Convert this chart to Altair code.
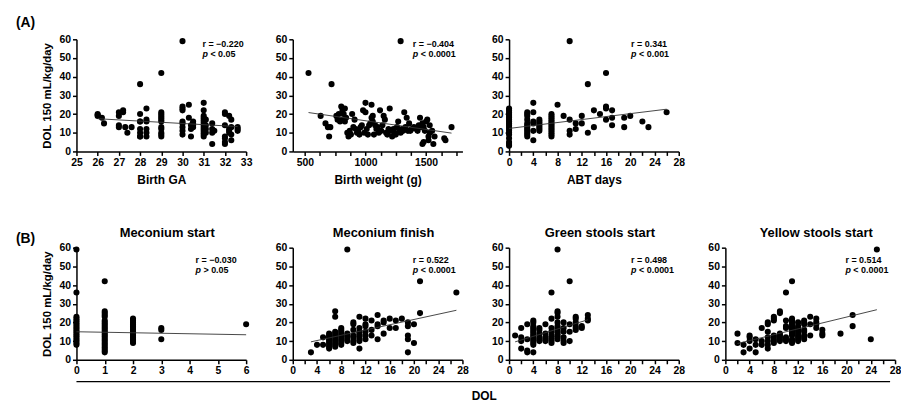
import altair as alt
import pandas as pd

FONT = "Liberation Sans"

# ---------------- data ----------------
# (A) Birth GA
GA_X = [26, 26, 26, 26.2, 26.3,
        27, 27, 27, 27, 27.2, 27.2, 27.3, 27.4, 27.6,
        28, 28, 28, 28, 28, 28, 28, 28,
        28.3, 28.3, 28.3, 28.3, 28.3, 28.3,
        29, 29, 29, 29, 29, 29, 29, 29, 29, 29, 29, 29,
        30, 30, 30, 30, 30, 30, 30, 30, 30,
        30.3, 30.3, 30.4, 30.4, 30.4, 30.5, 30.5, 30.5, 30.5,
        31, 31, 31, 31, 31, 31, 31, 31, 31, 31, 31, 31, 31, 31,
        31.1, 31.1, 31.1, 31.1,
        31.4, 31.4, 31.4, 31.4, 31.5,
        32, 32, 32, 32, 32, 32, 32,
        32.2, 32.2, 32.2, 32.2,
        32.3, 32.3, 32.3, 32.3,
        32.6, 32.6, 32.6]
GA_Y = [20, 19, 19.5, 18, 15,
        21, 19, 14, 13, 22, 21, 13, 10, 13,
        36, 20, 16, 16, 12, 10, 8, 8,
        23, 17, 16, 12, 10, 8,
        42, 21, 20, 19, 18, 17, 16, 13, 12, 10, 9, 8,
        59, 24, 23, 22, 16, 15, 13, 11, 9,
        25, 18, 14, 12, 8, 16, 15, 14, 13,
        26, 22, 19, 18, 17, 16, 15, 14, 13, 12, 11, 10, 9, 8,
        17, 14, 12, 10,
        15, 12, 10, 4, 11,
        21, 20, 14, 8, 7, 5, 4,
        19, 12, 11, 10,
        17, 13, 9, 6,
        13, 12, 11]

# (A) Birth weight
BW_X = [530, 630, 670, 690, 700, 710, 720, 760, 770, 780, 790, 800, 810, 810, 820,
        830, 830, 840, 850, 860, 870, 880, 890, 900, 910, 920, 930, 940, 950, 960,
        970, 980, 990, 1000, 1000, 1010, 1020, 1030, 1040, 1050, 1050, 1060, 1060,
        1070, 1080, 1090, 1100, 1110, 1120, 1130, 1140, 1150, 1160, 1170, 1180, 1190,
        1200, 1210, 1220, 1230, 1240, 1250, 1260, 1270, 1280, 1290, 1290, 1300, 1310,
        1320, 1330, 1340, 1350, 1360, 1370, 1380, 1400, 1420, 1430, 1440, 1450, 1460,
        1470, 1480, 1490, 1500, 1510, 1520, 1520, 1530, 1530, 1470, 1480, 1550, 1560,
        1570, 1650, 1660, 1710]
BW_Y = [42, 19, 15, 13, 8, 13, 36, 19, 17, 20, 16, 24, 22, 17, 20,
        16, 23, 18, 10, 8, 11, 9, 20, 13, 17, 12, 10, 11, 9, 13,
        14, 22, 10, 26, 21, 12, 9, 14, 15, 25, 18, 19, 16,
        9, 14, 12, 13, 10, 22, 11, 14, 19, 17, 10, 9, 12,
        23, 11, 8, 12, 10, 9, 13, 16, 11, 59, 10, 12, 11,
        21, 13, 18, 11, 15, 11, 12, 13, 12, 11, 14, 18, 13,
        15, 13, 11, 16, 17, 6, 8, 14, 10, 4, 5, 11, 4,
        8, 7, 6, 13]

# (A) ABT days
ABT_X = [0, 0, 0, 0, 0, 0, 0, 0, 0, 0, 0, 0, 0, 0, 0, 0, 0, 0, 0,
         3, 3, 3, 3, 3, 3, 3, 3, 3, 3, 3, 3,
         4, 4, 4, 4, 4, 4,
         5, 5, 5, 5, 5, 5, 5,
         7, 7, 7, 7, 7, 7, 7, 7, 7, 7, 7, 7, 7,
         8, 9, 10, 10, 10, 10, 11, 11, 12, 12, 13, 13, 14, 14, 15,
         16, 16, 16, 16, 17, 17, 17, 19, 19, 20, 22, 23, 26]
ABT_Y = [23, 22, 21, 20, 19, 18, 17, 16, 15, 14, 13, 12, 11, 10, 9, 7, 5, 4, 3,
         21, 20, 19, 17, 15, 14, 13, 12, 11, 10, 9, 8,
         26, 21, 16, 15, 11, 6,
         17, 16, 15, 14, 13, 12, 11,
         20, 19, 18, 17, 16, 15, 14, 13, 12, 11, 10, 9, 8,
         25, 19, 59, 17, 11, 9, 15, 12, 19, 15, 36, 10, 22, 13, 20,
         42, 24, 23, 17, 22, 18, 14, 18, 13, 19, 16, 13, 21]

# (B) Meconium start
MS_X = [0, 0, 0, 0, 0, 0, 0, 0, 0, 0, 0, 0, 0, 0, 0, 0, 0, 0,
        1, 1, 1, 1, 1, 1, 1, 1, 1, 1, 1, 1, 1, 1, 1, 1, 1, 1, 1, 1, 1, 1, 1,
        2, 2, 2, 2, 2, 2, 2, 2, 2, 2, 2, 2, 2, 2,
        3, 3, 3, 6]
MS_Y = [59, 36, 23, 22, 21, 20, 19, 18, 17, 16, 15, 14, 13, 12, 11, 10, 9, 8,
        42, 26, 25, 24, 23, 21, 20, 19, 18, 17, 16, 15, 14, 13, 12, 11, 10, 9, 8, 7, 6, 5, 4,
        22, 21, 20, 19, 18, 17, 16, 15, 14, 13, 12, 11, 10, 9,
        17, 16, 11, 19]

# (B) Meconium finish
MF_X = [3, 4, 5, 5,
        6, 6, 6, 6, 6, 6, 6, 6, 6,
        7, 7, 7, 7, 7, 7, 7, 7, 7, 7, 7,
        8, 8, 8, 8, 8, 8, 8, 8, 8, 8,
        9, 9, 9, 9, 9, 9,
        10, 10, 10, 10, 10, 10, 10,
        11, 11, 11, 11, 11, 11, 11, 11, 11,
        12, 12, 12, 12, 12, 12,
        13, 13, 13, 14, 14, 14, 14, 15, 15, 15, 16, 16, 17, 17, 18,
        19, 19, 19, 19, 19, 20, 20, 21, 21, 27]
MF_Y = [4, 8, 12, 8,
        14, 13, 12, 11, 10, 9, 8, 7, 6,
        26, 23, 15, 14, 13, 12, 11, 10, 9, 8, 7,
        17, 16, 15, 14, 13, 12, 11, 10, 9, 8,
        59, 14, 13, 12, 11, 10,
        20, 19, 16, 13, 12, 10, 9,
        23, 17, 15, 14, 13, 12, 11, 10, 6,
        22, 19, 18, 15, 13, 11,
        21, 16, 13, 24, 19, 18, 11, 21, 20, 14, 22, 17, 21, 17, 22,
        20, 18, 13, 11, 4, 19, 9, 42, 25, 36]

# (B) Green stools start
GS_X = [1, 2, 2, 2, 2, 3, 3, 3, 3,
        4, 4, 4, 4, 4, 4, 4, 4, 4, 4, 4, 4, 4, 4,
        5, 5, 5, 5, 5, 5,
        6, 6, 6, 6, 6,
        7, 7, 7, 7, 7, 7, 7, 7, 7,
        8, 8, 8, 8, 8, 8, 8, 8, 8, 8, 8, 8, 8,
        9, 9, 9, 9, 9, 9,
        10, 10, 10, 10,
        11, 11, 11, 11, 11, 11,
        12, 12, 13, 13, 13]
GS_Y = [13, 17, 12, 10, 6, 19, 11, 5, 4,
        21, 20, 18, 17, 16, 15, 14, 13, 12, 11, 10, 9, 8, 4,
        17, 16, 14, 12, 11, 10,
        19, 14, 12, 11, 10,
        36, 22, 17, 15, 13, 12, 11, 10, 9,
        59, 26, 25, 23, 20, 18, 17, 16, 15, 14, 13, 12, 11,
        20, 17, 15, 12, 10, 9,
        42, 19, 15, 10,
        23, 22, 20, 18, 17, 16,
        18, 17, 24, 22, 21]

# (B) Yellow stools start
YS_X = [2, 2, 3, 3, 4, 4, 4, 4, 5, 5, 5, 6, 6, 6,
        7, 7, 7, 7, 7, 7, 7,
        8, 8, 8, 8, 8, 8, 8, 8,
        9, 9, 9, 9, 9, 9, 9,
        10, 10, 10, 10, 10, 10, 10,
        11, 11, 11, 11, 11, 11, 11, 11, 11, 11, 11, 11, 11, 11,
        12, 12, 12, 12, 12, 12, 12, 12, 12, 12,
        13, 13, 13, 13, 13, 13, 13, 13,
        14, 14, 14, 15, 15, 15, 15, 16, 16, 16,
        19, 21, 21, 24, 25]
YS_Y = [14, 9, 8, 4, 13, 12, 10, 6, 11, 8, 4, 17, 10, 8,
        20, 19, 15, 12, 10, 8, 6,
        23, 22, 21, 13, 12, 11, 10, 9,
        26, 25, 14, 13, 12, 11, 10,
        36, 21, 18, 17, 12, 11, 10,
        42, 22, 21, 20, 19, 18, 17, 16, 15, 14, 13, 11, 10, 9,
        20, 18, 17, 16, 15, 14, 13, 12, 11, 10,
        21, 20, 19, 16, 15, 13, 12, 11,
        23, 19, 13, 22, 20, 19, 17, 16, 14, 13,
        14, 24, 18, 11, 59]

# regression line end points (x, y)
GA_LINE_X, GA_LINE_Y = [26, 32.6], [17.5, 13.3]
BW_LINE_X, BW_LINE_Y = [530, 1710], [20.8, 9.8]
ABT_LINE_X, ABT_LINE_Y = [0, 26], [12.3, 22.6]
MS_LINE_X, MS_LINE_Y = [0, 6], [15.0, 13.4]
MF_LINE_X, MF_LINE_Y = [3, 27], [9.6, 26.5]
GS_LINE_X, GS_LINE_Y = [1, 13], [9.6, 21.4]
YS_LINE_X, YS_LINE_Y = [2, 25], [8.7, 26.8]

R_TEXT = ["r = \u22120.220", "r = \u22120.404", "r = 0.341",
          "r = \u22120.030", "r = 0.522", "r = 0.498", "r = 0.514"]
P_TEXT = ["< 0.05", "< 0.0001", "< 0.001",
          "> 0.05", "< 0.0001", "< 0.0001", "< 0.0001"]
X_TITLES = ["Birth GA", "Birth weight (g)", "ABT days"]
B_TITLES = ["Meconium start", "Meconium finish", "Green stools start", "Yellow stools start"]
Y_TITLE = "DOL 150 mL/kg/day"

GA_TICKS = [25, 26, 27, 28, 29, 30, 31, 32, 33]
BW_TICKS = [500, 625, 750, 875, 1000, 1125, 1250, 1375, 1500, 1625, 1750]
DOL_TICKS = [0, 2, 4, 6, 8, 10, 12, 14, 16, 18, 20, 22, 24, 26, 28]
MS_TICKS = [0, 1, 2, 3, 4, 5, 6]
Y_TICKS = [0, 10, 20, 30, 40, 50, 60]

W, H = 171, 113


def txt(text, x, y, size=9, style="normal", align="left"):
    return alt.Chart(pd.DataFrame({"t": [text]})).mark_text(
        font=FONT, fontSize=size, fontWeight="bold", fontStyle=style,
        align=align, baseline="middle", color="black"
    ).encode(x=alt.value(x), y=alt.value(y), text="t:N")


def panel(xs, ys, lx, ly, r, p, xdom, xticks, label_step, ann, xtitle=None,
          ytitle=None, title=None, extras=()):
    pts = pd.DataFrame({"x": xs, "y": ys})
    ln = pd.DataFrame({"x": lx, "y": ly})
    xaxis = alt.Axis(values=xticks, title=xtitle, labelFlush=False, labelOverlap=False,
                     labelExpr=f"datum.value % {label_step} === 0 ? datum.label : ''",
                     format="d", titlePadding=7, titleFontSize=12)
    yaxis = alt.Axis(values=Y_TICKS, title=ytitle, titlePadding=6, labelOverlap=False,
                     format="d", titleFontSize=11.5)
    xs_ = alt.Scale(domain=xdom, nice=False, zero=False)
    ys_ = alt.Scale(domain=[0, 60], nice=False)
    base_pts = alt.Chart(pts).mark_circle(size=38, color="black", opacity=1).encode(
        x=alt.X("x:Q", scale=xs_, axis=xaxis),
        y=alt.Y("y:Q", scale=ys_, axis=yaxis),
    )
    line = alt.Chart(ln).mark_line(color="#333333", strokeWidth=0.9).encode(
        x=alt.X("x:Q", scale=xs_, axis=xaxis), y=alt.Y("y:Q", scale=ys_, axis=yaxis))
    ax, ay1, ay2 = ann
    layers = [base_pts, line,
              txt(r, ax, ay1),
              txt("p", ax, ay2, style="italic"),
              txt(p, ax + 8, ay2)]
    layers += list(extras)
    ch = alt.layer(*layers).properties(width=W, height=H)
    if title:
        ch = ch.properties(title=alt.TitleParams(
            title, font=FONT, fontSize=13, fontWeight="bold", color="black",
            anchor="middle", frame="group", offset=3, dx=6))
    return ch


a1 = panel(GA_X, GA_Y, GA_LINE_X, GA_LINE_Y, R_TEXT[0], P_TEXT[0], [25, 33], GA_TICKS, 1,
           (127, 4.5, 15.3), xtitle=X_TITLES[0], ytitle=Y_TITLE,
           extras=[txt("(A)", -61, -16.5, size=14), txt("(B)", -61, 201, size=14)])
a2 = panel(BW_X, BW_Y, BW_LINE_X, BW_LINE_Y, R_TEXT[1], P_TEXT[1], [400, 1800], BW_TICKS, 500,
           (121, 4.5, 15.3), xtitle=X_TITLES[1])
a3 = panel(ABT_X, ABT_Y, ABT_LINE_X, ABT_LINE_Y, R_TEXT[2], P_TEXT[2], [0, 28], DOL_TICKS, 4,
           (123, 4.5, 15.3), xtitle=X_TITLES[2])

blank = alt.Chart(pd.DataFrame({"x": [0]})).mark_point(opacity=0).encode(
    x=alt.X("x:Q", axis=None), y=alt.Y("x:Q", axis=None)).properties(width=W, height=H)

rule = alt.Chart(pd.DataFrame({"x": [0]})).mark_rule(color="black", strokeWidth=1.5).encode(
    x=alt.value(0), x2=alt.value(820), y=alt.value(135))

b1 = panel(MS_X, MS_Y, MS_LINE_X, MS_LINE_Y, R_TEXT[3], P_TEXT[3], [0, 6], MS_TICKS, 1,
           (120, 12, 23), ytitle=Y_TITLE, title=B_TITLES[0],
           extras=[rule, txt("DOL", 411, 150, size=12, align="center")])
b2 = panel(MF_X, MF_Y, MF_LINE_X, MF_LINE_Y, R_TEXT[4], P_TEXT[4], [0, 28], DOL_TICKS, 4,
           (121, 12, 23), title=B_TITLES[1])
b3 = panel(GS_X, GS_Y, GS_LINE_X, GS_LINE_Y, R_TEXT[5], P_TEXT[5], [0, 28], DOL_TICKS, 4,
           (123, 12, 23), title=B_TITLES[2])
b4 = panel(YS_X, YS_Y, YS_LINE_X, YS_LINE_Y, R_TEXT[6], P_TEXT[6], [0, 28], DOL_TICKS, 4,
           (121, 12, 23), title=B_TITLES[3])

chart = alt.concat(a1, a2, a3, blank, b1, b2, b3, b4, columns=4,
                   spacing={"row": 97, "column": 47}, bounds="flush").properties(
    padding={"left": 8, "top": 6, "right": 0, "bottom": 0}
).configure_view(stroke=None).configure_axis(
    grid=False, domainColor="black", domainWidth=1.5, tickColor="black", tickWidth=1.5,
    tickSize=4, labelFont=FONT, labelFontSize=10.5, labelFontWeight="bold",
    labelColor="black", labelPadding=2, labelOverlap=False, titleFont=FONT,
    titleFontWeight="bold", titleColor="black"
)

chart.save("out.html", embed_options={"renderer": "svg", "actions": False})
